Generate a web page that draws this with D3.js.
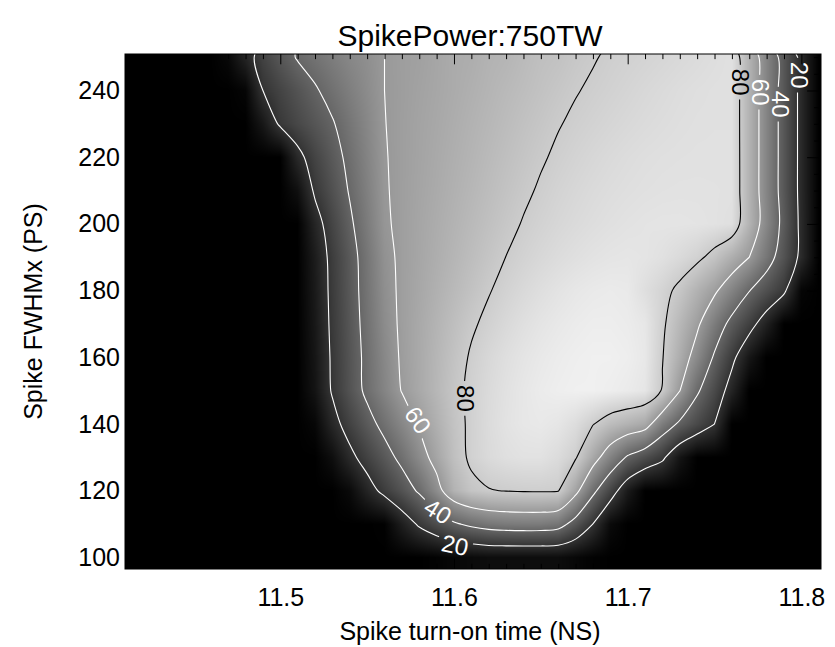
<!DOCTYPE html>
<html><head><meta charset="utf-8">
<script src="https://cdn.jsdelivr.net/npm/d3@7"></script>
<style>
html,body{margin:0;padding:0;background:#fff;}
svg{display:block;}
text{font-family:"Liberation Sans", Arial, Helvetica, sans-serif;}
</style></head><body>
<svg id="chart" width="835" height="647"></svg>
<script>
// ---------------- data ----------------
const times = [11.41,11.42,11.43,11.44,11.45,11.46,11.47,11.48,11.49,11.50,
               11.51,11.52,11.53,11.54,11.55,11.56,11.57,11.58,11.59,11.60,
               11.61,11.62,11.63,11.64,11.65,11.66,11.67,11.68,11.69,11.70,
               11.71,11.72,11.73,11.74,11.75,11.76,11.77,11.78,11.79,11.80,11.81];
const widths = [250,240,230,220,210,200,190,180,170,160,150,140,130,120,110,100];
// efficiency (%) : one row per width, one column per time
const efficiency = [
 [0,0,0,0,0,0,3,14,26,34,41,45,49,53,56,60,62,63,65,67,68,70,71,73,75,76,78,79.5,81,82,83,84,85,86,87,88,70,52,34,16,0],
 [0,0,0,0,0,0,0,2,20,26.5,32.6,38.7,44.2,49.5,54.7,60,61.8,63.6,65.3,67.1,68.9,70.7,72.5,74.2,76,77.8,79.6,81,82.2,83.4,84.6,85.6,86.6,87.3,87.8,88,70,52,34,16,0],
 [0,0,0,0,0,0,0,0,9,22,28,33.5,39,46,52.8,59.8,62,64,65.8,67.8,69.8,71.7,73.7,75.7,77.6,79.6,81.2,82.5,83.7,84.8,85.8,86.6,87.3,87.8,88,88,70,52,34,16,0],
 [0,0,0,0,0,0,0,0,0,0,16,26.5,35,43.3,51.4,59.5,62,64.2,66.3,68.5,70.6,72.8,75,77.1,79.2,81.2,82.8,84.2,85.4,86.4,87.2,87.7,88,88.2,88.2,88.2,70,52,34,16,0],
 [0,0,0,0,0,0,0,0,0,0,6,22,31.5,41,50,59.2,62.1,64.5,66.8,69.2,71.5,73.9,76.3,78.6,80.9,82.8,84.3,85.6,86.6,87.4,88,88.4,88.6,88.6,88.5,88.3,70,52,34,16,0],
 [0,0,0,0,0,0,0,0,0,0,0,14.4,27,37.8,48.2,58.6,62.2,64.9,67.5,70.1,72.7,75.3,77.9,80.5,82.5,84.2,85.6,86.8,87.8,88.6,89.2,89.5,89.5,89.2,88.6,87.5,70.5,53,35.5,16.5,0],
 [0,0,0,0,0,0,0,0,0,0,0,10.9,23.9,34.9,45.9,56.9,62.1,65.1,68.1,71.1,74.1,77.1,80.1,82.5,84.5,86.2,87.6,88.8,89.6,90,89.5,88,85.5,82.3,76.6,68.3,60,46.5,32.4,16.5,0],
 [0,0,0,0,0,0,0,0,0,0,0,10.1,23.3,34.4,45.3,55.8,62.1,65.6,69.1,72.6,76,79.5,82.5,85,87.2,89,90.5,91.5,92,91.5,87.2,83,77.7,69.8,62,51.6,40.4,31.3,22.3,1.9,0],
 [0,0,0,0,0,0,0,0,0,0,0,9.3,22.7,33.7,44.4,54.7,62,66.2,70.4,74.6,78.8,82,85,87.5,89.5,91,92.2,93,93,92.3,90.5,81.8,72.1,62.2,48.7,35.7,25,12.7,0,0,0],
 [0,0,0,0,0,0,0,0,0,0,0,8.4,21.9,32.9,43.4,53.2,61.5,66.4,71.3,76.2,81,84.5,87.3,89.5,91.2,92.5,93.4,94,94,93.2,91,80.5,68,54,38.2,23.4,8.8,0,0,0,0],
 [0,0,0,0,0,0,0,0,0,0,0,7.6,21.3,32.4,42.9,51.8,60.5,66.1,71.7,77.3,82,85.5,88.3,90.5,92.2,93.3,94,94,93.2,92,90,79,60.2,41.9,29,14,0,0,0,0,0],
 [0,0,0,0,0,0,0,0,0,0,0,2.5,15.1,25.7,35.1,44.1,52.7,61.2,68.8,76.3,82,86,88.8,90.5,91.2,90,86.5,80.5,74,70,66,49,37.4,28.6,19.9,0,0,0,0,0,0],
 [0,0,0,0,0,0,0,0,0,0,0,0,5.5,16.4,25.7,34.4,43.7,54.3,64.8,75,82,85.5,87.5,88.5,88.5,86,81,66.1,51.3,38.2,30.4,22.5,8,0,0,0,0,0,0,0,0],
 [0,0,0,0,0,0,0,0,0,0,0,0,0,3.7,14,23.7,32.3,41.9,54.9,70,77,79.5,80.3,80.8,81,80.5,64,43.5,27,10.3,0,0,0,0,0,0,0,0,0,0,0],
 [0,0,0,0,0,0,0,0,0,0,0,0,0,0,0,0.6,11.6,21.9,30,38,43,46.5,48,48.5,48.3,46,33.9,19.8,4,0,0,0,0,0,0,0,0,0,0,0,0],
 [0,0,0,0,0,0,0,0,0,0,0,0,0,0,0,0,0,0,1,3,4,5,5,5,5,5,3,1,0,0,0,0,0,0,0,0,0,0,0,0,0]
];
const contourLevels = [20, 40, 60, 80];
const xTicks = [11.5, 11.6, 11.7, 11.8];
const yTicks = [100, 120, 140, 160, 180, 200, 220, 240];
const titleText = "SpikePower:750TW";
const xLabel = "Spike turn-on time (NS)";
const yLabel = "Spike FWHMx (PS)";
// contour label annotations
const labelText  = ["80", "60", "40", "20", "80", "60", "40", "20"];
const labelTime  = [11.7652, 11.7767, 11.7883, 11.7991, 11.6066, 11.5793, 11.5908, 11.6006];
const labelWidth = [242.5, 239.5, 235.9, 244.6, 147.7, 141.2, 113.9, 103.7];

// ---------------- layout ----------------
const plot = {left: 125, right: 821, top: 54, bottom: 569};
const labelAngle = [90, 90, 90, 90, 90, 55, 32, 12];
const levelColor = d3.scaleOrdinal().domain(contourLevels).range(["#fff", "#fff", "#fff", "#000"]);
const labelColor = ["#000", "#fff", "#fff", "#fff", "#000", "#fff", "#fff", "#fff"];

const svg = d3.select("#chart");
const x = d3.scaleLinear().domain([11.4106, 11.8113]).range([plot.left, plot.right]);
const y = d3.scaleLinear().domain([96.55, 250.94]).range([plot.bottom, plot.top]);

const nx = times.length, ny = widths.length;
const colOf = d3.scaleLinear().domain([times[0], times[nx - 1]]).range([0, nx - 1]).clamp(true);
const rowOf = d3.scaleLinear().domain([widths[0], widths[ny - 1]]).range([0, ny - 1]).clamp(true);
const gray = d3.scaleLinear().domain([0, 100]).range([0, 255]).clamp(true);

// ---------------- heat map (bilinear shaded image) ----------------
const cw = plot.right - plot.left, ch = plot.bottom - plot.top;
const canvas = document.createElement("canvas");
canvas.width = cw; canvas.height = ch;
const ctx = canvas.getContext("2d");
const img = ctx.createImageData(cw, ch);
for (let py = 0; py < ch; py++) {
  const r = rowOf(y.invert(plot.top + py + 0.5));
  const r0 = Math.min(Math.floor(r), ny - 2), fr = r - r0;
  for (let px = 0; px < cw; px++) {
    const c = colOf(x.invert(plot.left + px + 0.5));
    const c0 = Math.min(Math.floor(c), nx - 2), fc = c - c0;
    const v = efficiency[r0][c0] * (1 - fr) * (1 - fc) + efficiency[r0][c0 + 1] * (1 - fr) * fc +
              efficiency[r0 + 1][c0] * fr * (1 - fc) + efficiency[r0 + 1][c0 + 1] * fr * fc;
    const g = Math.round(gray(v));
    const k = (py * cw + px) * 4;
    img.data[k] = g; img.data[k + 1] = g; img.data[k + 2] = g; img.data[k + 3] = 255;
  }
}
ctx.putImageData(img, 0, 0);

const defs = svg.append("defs");
defs.append("clipPath").attr("id", "plotclip").append("rect")
  .attr("x", plot.left).attr("y", plot.top).attr("width", cw).attr("height", ch);

svg.append("image")
  .attr("x", plot.left).attr("y", plot.top).attr("width", cw).attr("height", ch)
  .attr("preserveAspectRatio", "none")
  .attr("href", canvas.toDataURL());

// ---------------- contours ----------------
const gx = d3.scaleLinear().domain([0.5, nx - 0.5]).range([times[0], times[nx - 1]]);
const gy = d3.scaleLinear().domain([0.5, ny - 0.5]).range([widths[0], widths[ny - 1]]);
const contours = d3.contours().size([nx, ny]).thresholds(contourLevels)(efficiency.flat());
const onB = p => p[0] <= 0 || p[0] >= nx || p[1] <= 0 || p[1] >= ny;
function ringToLines(ring) {
  const n = ring.length - 1;
  const pts = ring.slice(0, n);
  const bad = i => onB(pts[i]) && onB(pts[(i + 1) % n]);
  let start = -1;
  for (let i = 0; i < n; i++) if (bad(i)) { start = i; break; }
  if (start < 0) return [pts.concat([pts[0]])];
  const lines = []; let cur = [];
  for (let k = 1; k <= n; k++) {
    const i = (start + k) % n;
    if (bad(i)) { if (cur.length) { cur.push(pts[i]); if (cur.length > 1) lines.push(cur); } cur = []; }
    else cur.push(pts[i]);
  }
  return lines;
}
const line = d3.line().x(p => x(gx(p[0]))).y(p => y(gy(p[1]))).curve(d3.curveCatmullRom.alpha(0.5));

// mask to open gaps under labels
const mask = defs.append("mask").attr("id", "lblmask").attr("maskUnits", "userSpaceOnUse")
  .attr("x", 0).attr("y", 0).attr("width", 835).attr("height", 647);
mask.append("rect").attr("x", 0).attr("y", 0).attr("width", 835).attr("height", 647).attr("fill", "#fff");

const cg = svg.append("g").attr("clip-path", "url(#plotclip)");
const lg = cg.append("g").attr("mask", "url(#lblmask)");
contours.forEach(c => {
  const lines = [];
  c.coordinates.forEach(poly => poly.forEach(ring => ringToLines(ring).forEach(l => lines.push(l))));
  lg.selectAll(null).data(lines).enter().append("path")
    .attr("d", line).attr("fill", "none")
    .attr("stroke", levelColor(c.value)).attr("stroke-width", 1.1);
});

// contour labels
const labelFont = 24;
labelText.forEach((t, i) => {
  const px = x(labelTime[i]), py = y(labelWidth[i]);
  const tx = cg.append("text")
    .attr("transform", `translate(${px},${py}) rotate(${labelAngle[i]})`)
    .attr("text-anchor", "middle").attr("dy", "0.36em")
    .attr("font-size", labelFont).attr("fill", labelColor[i]).text(t);
  const len = tx.node().getComputedTextLength();
  mask.append("rect")
    .attr("transform", `translate(${px},${py}) rotate(${labelAngle[i]})`)
    .attr("x", -len / 2 - 4).attr("y", -10).attr("width", len + 8).attr("height", 20)
    .attr("fill", "#000");
});

// ---------------- axes ----------------
const xMinor = d3.range(11.42, 11.815, 0.01).map(v => +v.toFixed(2)).filter(v => !xTicks.includes(v));
const yMinor = d3.range(100, 251, 5).filter(v => !yTicks.includes(v));
const majX = 10.3, majY = 13.9;

function styleAxis(g) {
  g.select(".domain").remove();
  g.selectAll(".tick line").attr("stroke", "#000").attr("stroke-width", 1);
  g.selectAll(".tick text").attr("fill", "#000").attr("font-size", 25)
    .attr("font-family", '"Liberation Sans", Arial, Helvetica, sans-serif');
}
svg.append("g").attr("transform", `translate(0,${plot.bottom})`)
  .call(d3.axisBottom(x).tickValues(xTicks).tickSize(-majX).tickPadding(19).tickFormat(d3.format(".1f"))).call(styleAxis);
svg.append("g").attr("transform", `translate(0,${plot.bottom})`)
  .call(d3.axisBottom(x).tickValues(xMinor).tickSize(-majX / 2).tickFormat("")).call(styleAxis);
svg.append("g").attr("transform", `translate(0,${plot.top})`)
  .call(d3.axisTop(x).tickValues(xTicks).tickSize(-majX).tickFormat("")).call(styleAxis);
svg.append("g").attr("transform", `translate(0,${plot.top})`)
  .call(d3.axisTop(x).tickValues(xMinor).tickSize(-majX / 2).tickFormat("")).call(styleAxis);
svg.append("g").attr("transform", `translate(${plot.left},0)`)
  .call(d3.axisLeft(y).tickValues(yTicks).tickSize(-majY).tickPadding(5).tickFormat(d3.format("d"))).call(styleAxis);
svg.append("g").attr("transform", `translate(${plot.left},0)`)
  .call(d3.axisLeft(y).tickValues(yMinor).tickSize(-majY / 2).tickFormat("")).call(styleAxis);
svg.append("g").attr("transform", `translate(${plot.right},0)`)
  .call(d3.axisRight(y).tickValues(yTicks).tickSize(-majY).tickFormat("")).call(styleAxis);
svg.append("g").attr("transform", `translate(${plot.right},0)`)
  .call(d3.axisRight(y).tickValues(yMinor).tickSize(-majY / 2).tickFormat("")).call(styleAxis);

svg.append("rect").attr("x", plot.left).attr("y", plot.top).attr("width", cw).attr("height", ch)
  .attr("fill", "none").attr("stroke", "#000").attr("stroke-width", 1);

// ---------------- titles ----------------
svg.append("text").attr("x", (plot.left + plot.right) / 2 - 3).attr("y", 46)
  .attr("text-anchor", "middle").attr("font-size", 30).text(titleText);
svg.append("text").attr("x", (plot.left + plot.right) / 2 - 3).attr("y", 640)
  .attr("text-anchor", "middle").attr("font-size", 25).text(xLabel);
svg.append("text").attr("transform", `translate(33,${(plot.top + plot.bottom) / 2}) rotate(-90)`)
  .attr("text-anchor", "middle").attr("dy", "0.36em").attr("font-size", 25).text(yLabel);
</script>
</body></html>
